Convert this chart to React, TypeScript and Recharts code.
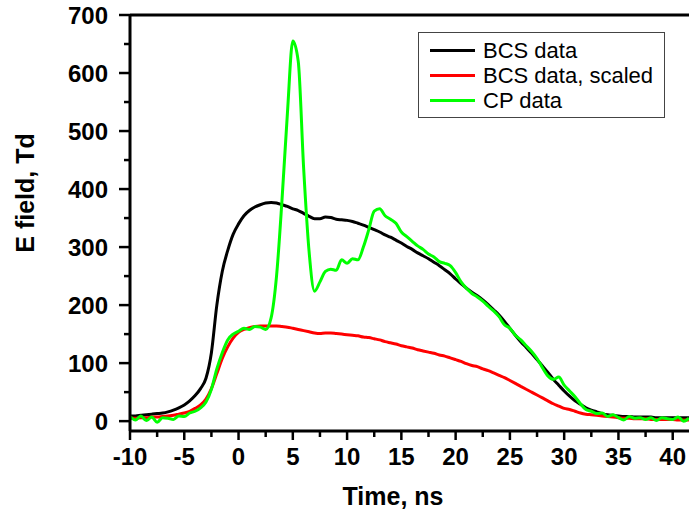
import { LineChart, Line, XAxis, YAxis, ReferenceLine, Legend } from 'recharts'

const FONT = 'Arial, "Liberation Sans", sans-serif'

// time axis, ns
const timeNs = [
  -10, -9.5, -9, -8.5, -8, -7.5, -7, -6.5, -6, -5.5,
  -5, -4.5, -4, -3.5, -3, -2.5, -2, -1.5, -1, -0.5,
  0, 0.5, 1, 1.5, 2, 2.5, 3, 3.5, 4, 4.5,
  5, 5.5, 6, 6.5, 7, 7.5, 8, 8.5, 9, 9.5,
  10, 10.5, 11, 11.5, 12, 12.5, 13, 13.5, 14, 14.5,
  15, 15.5, 16, 16.5, 17, 17.5, 18, 18.5, 19, 19.5,
  20, 20.5, 21, 21.5, 22, 22.5, 23, 23.5, 24, 24.5,
  25, 25.5, 26, 26.5, 27, 27.5, 28, 28.5, 29, 29.5,
  30, 30.5, 31, 31.5, 32, 32.5, 33, 33.5, 34, 34.5,
  35, 35.5, 36, 36.5, 37, 37.5, 38, 38.5, 39, 39.5,
  40, 40.5, 41, 41.5,
]

const bcsData = [
  9, 9, 10, 11, 12, 13, 14, 16, 19, 23,
  28, 35, 44, 56, 74, 118, 200, 258, 294, 322,
  340, 354, 363, 369, 373, 376, 377, 376, 373, 370,
  366, 363, 358, 353, 349, 349, 352, 351, 348, 347,
  346, 344, 341, 338, 334, 330, 326, 321, 317, 312,
  307, 301, 296, 290, 285, 280, 274, 268, 261, 254,
  245, 237, 229, 222, 216, 209, 201, 192, 183, 172,
  160, 148, 137, 127, 117, 106, 95, 84, 72, 62,
  52, 43, 35, 29, 23, 19, 16, 13, 11, 10,
  9, 8, 8, 7, 7, 7, 7, 6, 6, 6,
  6, 6, 6, 6,
]

const bcsScaled = [
  5, 5, 6, 6, 7, 7, 8, 9, 10, 12,
  14, 17, 22, 28, 38, 56, 82, 108, 128, 143,
  153, 158, 161, 163, 164, 164, 164, 164, 163, 162,
  160, 158, 156, 154, 152, 151, 152, 152, 151, 150,
  149, 148, 147, 145, 144, 142, 140, 137, 135, 133,
  130, 128, 126, 123, 121, 119, 117, 114, 112, 109,
  106, 103, 99, 96, 94, 90, 87, 83, 79, 75,
  70, 65, 60, 55, 50, 45, 40, 35, 30, 26,
  22, 20, 17, 14, 12, 11, 10, 9, 8, 7,
  6, 5, 5, 4, 4, 4, 3, 3, 3, 3,
  3, 2, 2, 2,
]

const cpData = [
  8, 2, 9, 1, 7, -2, 6, 5, 3, 9,
  8, 14, 17, 23, 33, 55, 90, 118, 140, 150,
  155, 160, 158, 163, 162, 158, 178, 250, 380, 530,
  655, 620, 435, 292, 224, 240, 258, 262, 260, 278,
  272, 280, 278, 300, 330, 362, 366, 354, 348, 341,
  326, 318, 310, 302, 296, 288, 283, 275, 272, 268,
  256, 240, 229, 220, 214, 207, 198, 190, 180, 166,
  160, 148, 140, 130, 120, 108, 92, 78, 72, 76,
  62, 52, 42, 30, 20, 17, 13, 14, 8, 11,
  6, 2, 8, 5, 6, 3, 6, 1, 6, 4,
  3, 7, 0, 5,
]

const xTicks = [-10, -7.5, -5, -2.5, 0, 2.5, 5, 7.5, 10, 12.5, 15, 17.5, 20, 22.5, 25, 27.5, 30, 32.5, 35, 37.5, 40]
const yTicks = [0, 50, 100, 150, 200, 250, 300, 350, 400, 450, 500, 550, 600, 650, 700]

const series = [
  { key: 'bcs', name: 'BCS data', color: '#000000' },
  { key: 'scaled', name: 'BCS data, scaled', color: '#ff0000' },
  { key: 'cp', name: 'CP data', color: '#00ff00' },
]

const rows = timeNs.map((t, i) => ({ t, bcs: bcsData[i], scaled: bcsScaled[i], cp: cpData[i] }))

function XTick({ x, y, payload }: any) {
  const v = payload.value
  const major = v % 5 === 0
  return (
    <g>
      <line x1={x} x2={x} y1={y} y2={y + (major ? 9 : 6)} stroke="#000" strokeWidth={2.5} />
      {major && (
        <text x={x} y={y + 34} textAnchor="middle" fontSize={24} fontWeight="bold" fontFamily={FONT} fill="#000">
          {v}
        </text>
      )}
    </g>
  )
}

function YTick({ x, y, payload }: any) {
  const v = payload.value
  const major = v % 100 === 0
  return (
    <g>
      <line x1={x} x2={x - (major ? 11 : 6)} y1={y} y2={y} stroke="#000" strokeWidth={2.5} />
      {major && (
        <text x={x - 22} y={y + 9} textAnchor="end" fontSize={24} fontWeight="bold" fontFamily={FONT} fill="#000">
          {v}
        </text>
      )}
    </g>
  )
}

function LegendBox({ payload }: any) {
  return (
    <div
      style={{
        border: '1px solid #444', background: '#fff', width: 247, height: 86,
        boxSizing: 'border-box', padding: '5px 0 0 11px',
        fontFamily: FONT, fontSize: 22, color: '#000', lineHeight: 1,
      }}
    >
      {(payload || []).map((p: any) => (
        <div key={p.value} style={{ display: 'flex', alignItems: 'center', height: 25 }}>
          <span style={{ display: 'inline-block', width: 45, height: 3, background: p.color, marginRight: 8 }} />
          <span>{p.value}</span>
        </div>
      ))}
    </div>
  )
}

export default function App() {
  return (
    <div style={{ position: 'absolute', left: 0, top: 0, background: '#fff' }}>
      <LineChart width={689} height={513} data={rows} margin={{ top: 15, right: 0, left: 0, bottom: 0 }}>
        <XAxis
          dataKey="t"
          type="number"
          domain={[-10, 41.5]}
          allowDataOverflow
          ticks={xTicks}
          interval={0}
          height={82}
          tickSize={0}
          tickMargin={0}
          tickLine={false}
          tick={<XTick />}
          axisLine={{ stroke: '#000', strokeWidth: 3 }}
        />
        <YAxis
          type="number"
          domain={[-17, 700]}
          allowDataOverflow
          ticks={yTicks}
          interval={0}
          width={130}
          tickSize={0}
          tickMargin={0}
          tickLine={false}
          tick={<YTick />}
          axisLine={{ stroke: '#000', strokeWidth: 3 }}
        />
        <ReferenceLine y={700} stroke="#000" strokeWidth={3} />
        {series.map((s) => (
          <Line
            key={s.key}
            dataKey={s.key}
            name={s.name}
            stroke={s.color}
            strokeWidth={3}
            type="monotone"
            dot={false}
            activeDot={false}
            isAnimationActive={false}
          />
        ))}
        <Legend
          layout="horizontal"
          verticalAlign="middle"
          align="center"
          content={<LegendBox />}
          wrapperStyle={{ left: 418, top: 32, width: 247, height: 86 }}
        />
        <text x={393} y={505} textAnchor="middle" fontSize={25} fontWeight="bold" fontFamily={FONT} fill="#000">
          Time, ns
        </text>
        <text
          x={34}
          y={193}
          textAnchor="middle"
          fontSize={25}
          fontWeight="bold"
          fontFamily={FONT}
          fill="#000"
          transform="rotate(-90 34 193)"
        >
          E field, Td
        </text>
      </LineChart>
    </div>
  )
}
